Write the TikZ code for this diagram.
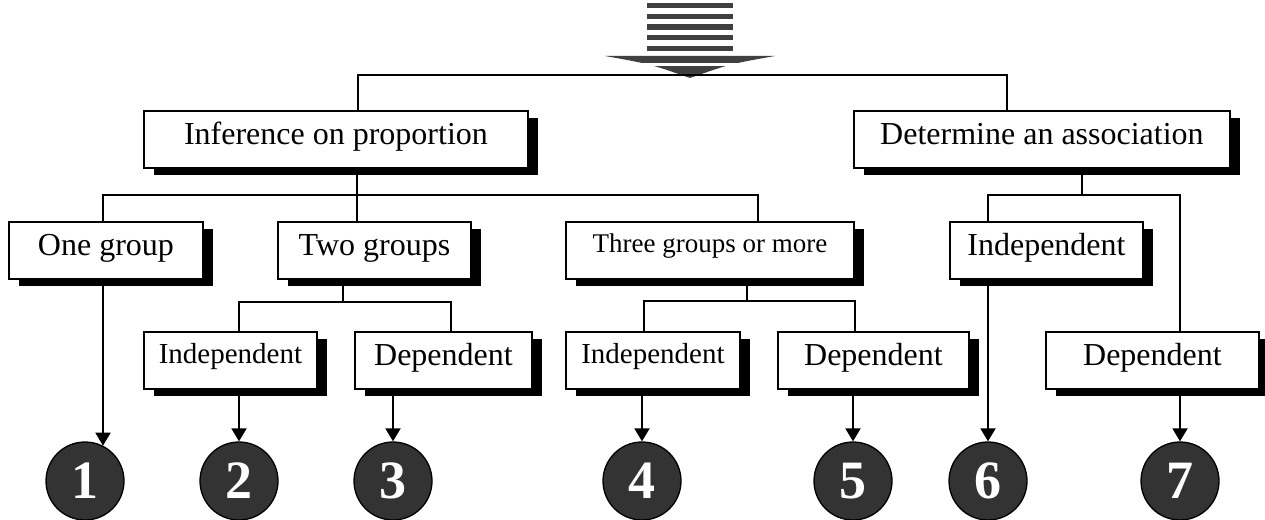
\documentclass[tikz,border=0pt]{standalone}
\usepackage{fontspec}
\setmainfont{Liberation Serif}
\usetikzlibrary{shadows,arrows.meta}

\tikzset{
  box/.style={draw, fill=white, line width=1.9pt, inner xsep=0pt, inner ysep=0pt,
    anchor=north west, text height=34pt, text depth=23pt,
    font=\fontsize{32}{38}\selectfont,
    drop shadow={shadow xshift=10pt, shadow yshift=-7pt, opacity=1, fill=black}},
  smallbox/.style={box, text height=32pt, text depth=25pt, font=\fontsize{29}{34}\selectfont},
  tinybox/.style={box, text height=31pt, text depth=26pt, font=\fontsize{27}{32}\selectfont},
  num/.style={circle, draw, line width=1.3pt, fill=black!80, text=white,
    minimum size=78pt, inner sep=0pt, font=\fontsize{54}{54}\selectfont\bfseries},
  conn/.style={line width=1.9pt},
  arr/.style={line width=1.9pt, -{Triangle[length=13pt, width=15pt]}},
  stripe/.style={fill=black!75}
}

\begin{document}
\begin{tikzpicture}[x=1pt, y=-1pt]
\useasboundingbox (0,0) rectangle (1265,519);

% striped arrow at the top
\foreach \t in {3,13.6,24.3,35,45.8}
  \fill[stripe] (647,\t) rectangle (733,\t+5.3);
\fill[stripe] (605,56) -- (775,56) .. controls (730,64) .. (690,78) .. controls (650,64) .. cycle;
\fill[white] (600,63) rectangle (780,66);

% boxes
\node[box, minimum width=384pt] (inf) at (143,110) {Inference on proportion};
\node[box, minimum width=376pt] (det) at (853,110) {Determine an association};
\node[box, minimum width=194pt] (one) at (8,221) {One group};
\node[box, minimum width=193pt] (two) at (277,221) {Two groups};
\node[tinybox, minimum width=288pt] (three) at (565,221) {Three groups or more};
\node[box, minimum width=193pt] (indR) at (949,221) {Independent};
\node[smallbox, minimum width=173pt] (ind2) at (143,331) {Independent};
\node[box, minimum width=177pt] (dep2) at (354,331) {Dependent};
\node[smallbox, minimum width=174pt] (ind3) at (565,331) {Independent};
\node[box, minimum width=191pt] (dep3) at (777,331) {Dependent};
\node[box, minimum width=213pt] (depR) at (1045,331) {Dependent};

% numbered outcomes
\node[num] (c1) at (85,481) {1};
\node[num] (c2) at (239,481) {2};
\node[num] (c3) at (393,481) {3};
\node[num] (c4) at (642,481) {4};
\node[num] (c5) at (853,481) {5};
\node[num] (c6) at (988,481) {6};
\node[num] (c7) at (1180,481) {7};

% junction points of the tree
\coordinate (jt1) at (358,75);
\coordinate (jt2) at (1007,75);
\coordinate (ja) at (357,195);
\coordinate (jaL) at (103,195);
\coordinate (jaR) at (758,195);
\coordinate (jb) at (343,302);
\coordinate (jbL) at (239,302);
\coordinate (jbR) at (451,302);
\coordinate (jc) at (747,301);
\coordinate (jcL) at (644,301);
\coordinate (jcR) at (855,301);
\coordinate (jd) at (1082,195);
\coordinate (jdL) at (988,195);
\coordinate (jdR) at (1180,195);

% connectors
\draw[conn] (inf.north -| jt1) -- (jt1) -- (jt2) -- (det.north -| jt2);
\draw[conn] (inf.south -| ja) -- (two.north -| ja);
\draw[conn] (one.north -| jaL) -- (jaL) -- (jaR) -- (three.north -| jaR);
\draw[conn] (two.south -| jb) -- (jb);
\draw[conn] (ind2.north -| jbL) -- (jbL) -- (jbR) -- (dep2.north -| jbR);
\draw[conn] (three.south -| jc) -- (jc);
\draw[conn] (ind3.north -| jcL) -- (jcL) -- (jcR) -- (dep3.north -| jcR);
\draw[conn] (det.south -| jd) -- (jd);
\draw[conn] (indR.north -| jdL) -- (jdL) -- (jdR) -- (depR.north -| jdR);

% arrows to the outcomes
\draw[arr] (one.south -| c1.63) -- (c1.63);
\draw[arr] (ind2.south -| c2.north) -- (c2.north);
\draw[arr] (dep2.south -| c3.north) -- (c3.north);
\draw[arr] (ind3.south -| c4.north) -- (c4.north);
\draw[arr] (dep3.south -| c5.north) -- (c5.north);
\draw[arr] (indR.south -| c6.north) -- (c6.north);
\draw[arr] (depR.south -| c7.north) -- (c7.north);
\end{tikzpicture}
\end{document}
